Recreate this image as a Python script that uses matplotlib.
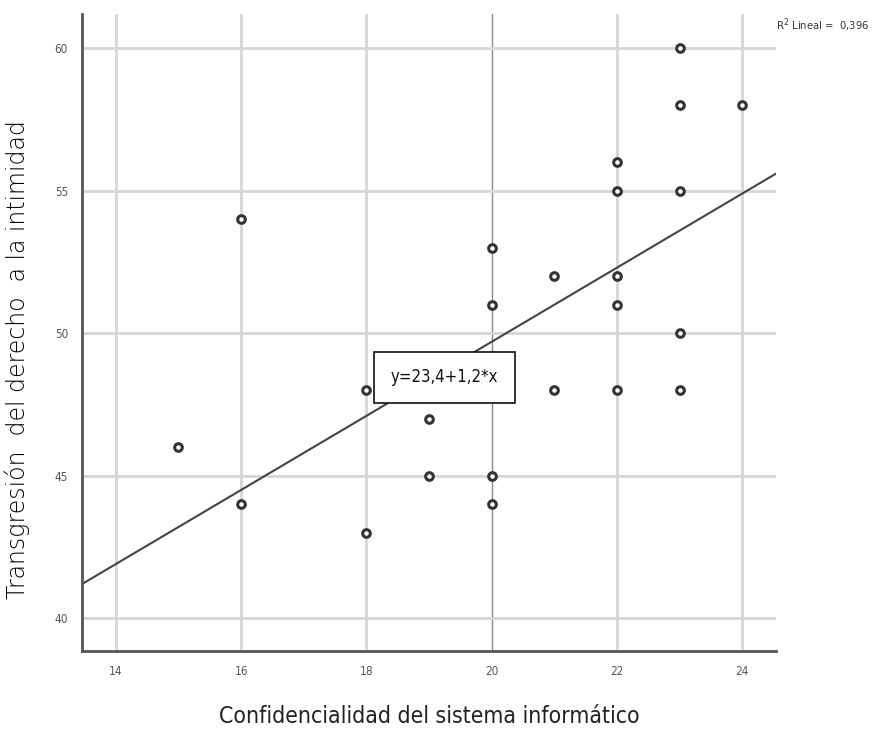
import numpy as np
import matplotlib
matplotlib.use("Agg")
import matplotlib.pyplot as plt
from matplotlib import font_manager

# data (x = confidencialidad, y = transgresión)
conf = [15, 16, 16, 18, 18, 19, 19, 20, 20, 20, 20, 21, 21,
        22, 22, 22, 22, 22, 23, 23, 23, 23, 23, 24]
trans = [46, 54, 44, 48, 43, 47, 45, 53, 51, 45, 44, 52, 48,
         56, 55, 52, 51, 48, 60, 58, 55, 50, 48, 58]
# fit line as drawn in the source (value at x = 14 and x = 24)
fit_x = [14, 24]
fit_y = [41.9, 54.9]
x_ticks = [14, 16, 18, 20, 22, 24]
y_ticks = [40, 45, 50, 55, 60]
eq_label = "y=23,4+1,2*x"
r2_label = "R$^2$ Lineal =  0,396"
x_title = "Confidencialidad del sistema informático"
y_title = "Transgresión  del derecho  a la intimidad"

names = {f.name for f in font_manager.fontManager.ttflist}
NARROW = "Liberation Sans Narrow" if "Liberation Sans Narrow" in names else "DejaVu Sans"
NARROW_KW = dict(family=NARROW, stretch="condensed")
INK = "#333333"
GRID = "#d6d6d6"

fig = plt.figure(figsize=(8.76, 7.36), dpi=100)
ax = fig.add_axes([0.0936, 0.1155, 0.7924, 0.8655])

ax.set_xlim(13.46, 24.54)
ax.set_ylim(38.85, 61.2)
ax.set_xticks(x_ticks)
ax.set_yticks(y_ticks)
ax.tick_params(length=0, labelsize=8.5, colors="#555555", pad=10)
for lab in ax.get_xticklabels() + ax.get_yticklabels():
    lab.set_family(NARROW)
    lab.set_stretch("condensed")

for xv in x_ticks:
    ax.axvline(xv, color="#8a8a8a" if xv == 20 else GRID, lw=1.0 if xv == 20 else 2.0, zorder=0)
for yv in y_ticks:
    ax.axhline(yv, color=GRID, lw=2.0, zorder=0)

for side in ("top", "right"):
    ax.spines[side].set_visible(False)
for side in ("left", "bottom"):
    ax.spines[side].set_color("#555555")
    ax.spines[side].set_linewidth(2.0)

# fit line over the full x range
slope, icpt = np.polyfit(fit_x, fit_y, 1)
xl = np.array(ax.get_xlim())
ax.plot(xl, icpt + slope * xl, color="#444444", lw=1.5, zorder=2)

ax.plot(conf, trans, "o", ms=5.5, mfc="white", mec=INK, mew=2.2, zorder=3, clip_on=False)

ax.text(19.24, 48.45, eq_label, ha="center", va="center", fontsize=12, **NARROW_KW,
        color="#111111", zorder=5,
        bbox=dict(boxstyle="square,pad=1.0", fc="white", ec="#111111", lw=1.2))

fig.text(0.886, 0.966, r2_label, fontsize=8, **NARROW_KW, color="#333333",
         ha="left", va="center")

ax.set_xlabel(x_title, fontsize=16.5, **NARROW_KW, color="#222222")
ax.set_ylabel(y_title, fontsize=17, color="#000000", fontweight="light")
ax.xaxis.set_label_coords(0.5, -0.084)
ax.yaxis.set_label_coords(-0.075, 0.457)

fig.savefig("out.png", dpi=100, facecolor="white")
